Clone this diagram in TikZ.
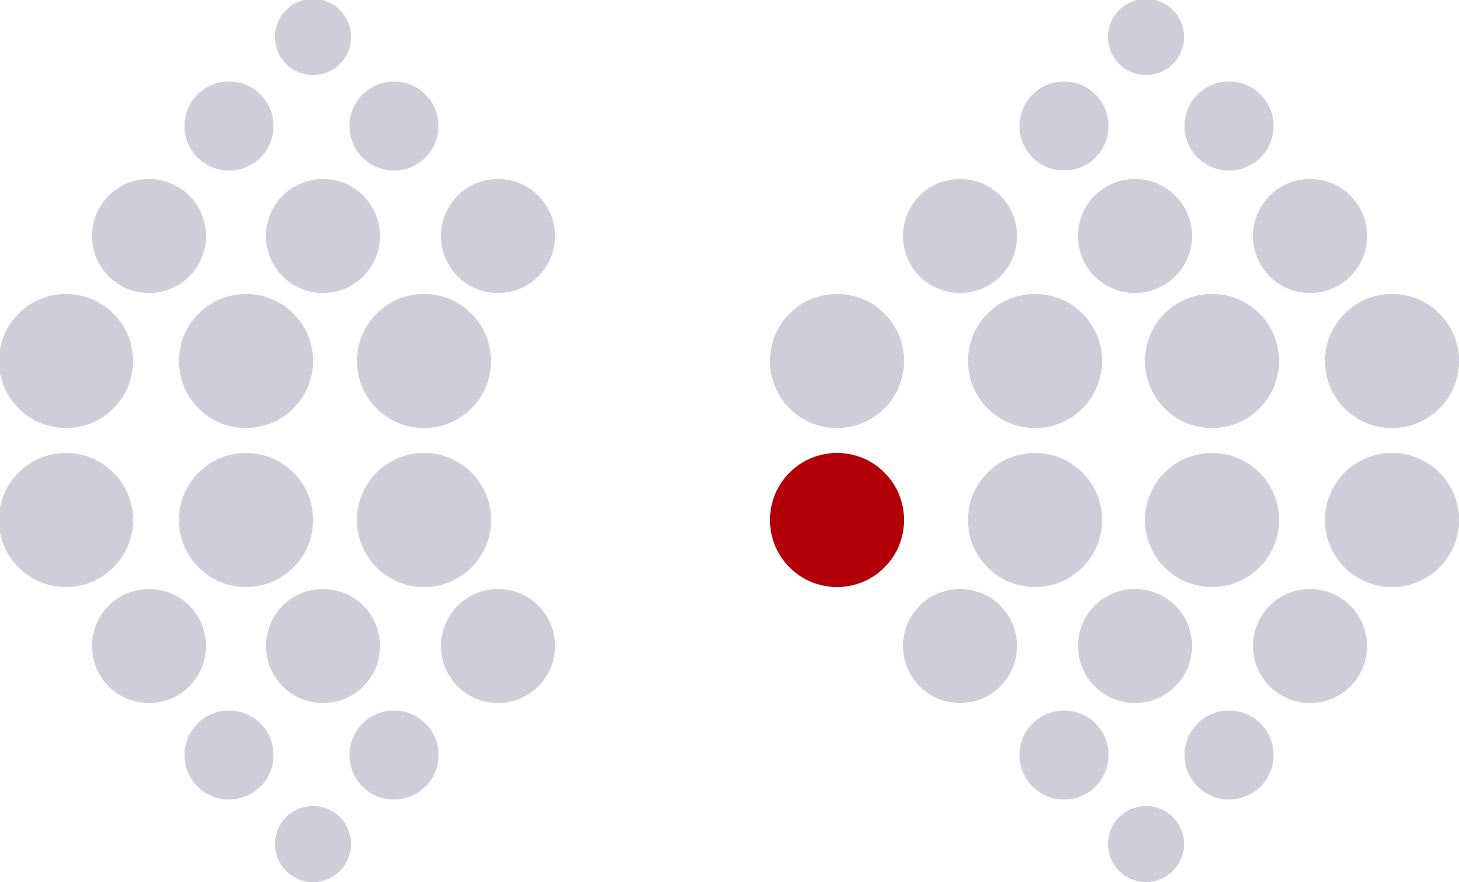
\documentclass[tikz,border=0pt]{standalone}
\usepackage{tikz}
\definecolor{dotgrey}{HTML}{CECDD9}
\definecolor{dotred}{HTML}{B30008}
\tikzset{dot/.style={circle,fill=dotgrey,draw=none,inner sep=0pt,minimum size=#1}}
\begin{document}
\begin{tikzpicture}[x=1pt,y=-1pt]
            \useasboundingbox (0,0) rectangle (1459,882);
            % left group
            \foreach \x/\y/\d [count=\i] in {313/37/76, 229/126/89, 394/126/89,
                149/236/114, 323/236/114, 498/236/114,
                66/361/134, 246/361/134, 424/361/134,
                66/520/134, 246/520/134, 424/520/134,
                149/646/114, 323/646/114, 498/646/114,
                229/755/89, 394/755/89, 313/844/76}
                \node[dot=\d pt] (l\i) at (\x,\y) {};
            % right group
            \foreach \x/\y/\d [count=\i] in {1146/37/76, 1064/126/89, 1229/126/89,
                960/236/114, 1135/236/114, 1310/236/114,
                837/361/134, 1035/361/134, 1212/361/134, 1392/361/134,
                1035/520/134, 1212/520/134, 1392/520/134,
                960/646/114, 1135/646/114, 1310/646/114,
                1064/755/89, 1229/755/89, 1146/844/76}
                \node[dot=\d pt] (r\i) at (\x,\y) {};
            \node[dot=134pt,fill=dotred] (red) at (837,520) {};
        \end{tikzpicture}
\end{document}
